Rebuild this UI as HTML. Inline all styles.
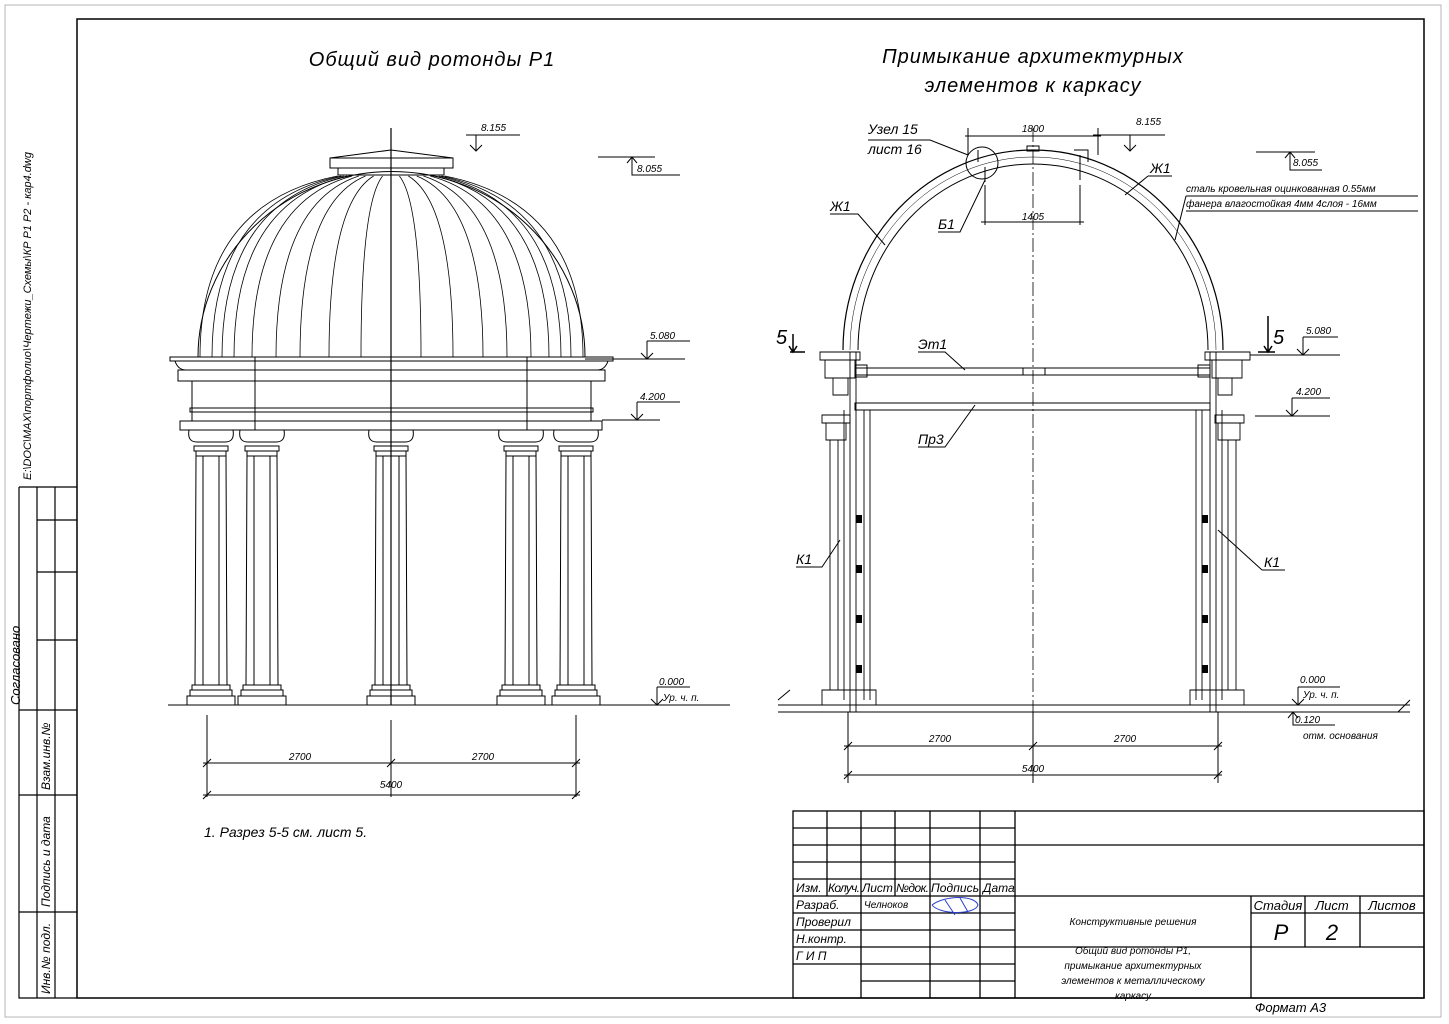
<!DOCTYPE html>
<html><head><meta charset="utf-8"><style>
html,body{margin:0;padding:0;background:#fff}
svg{display:block}
text{font-family:"Liberation Sans",sans-serif;font-style:italic;fill:#000;stroke:none}
</style></head><body>
<svg id="s" width="1449" height="1024" viewBox="0 0 1449 1024" xmlns="http://www.w3.org/2000/svg" fill="none" stroke="#000" stroke-width="1">
<!-- frame -->
<rect x="77" y="19" width="1347" height="979" stroke-width="1.5"/>
<rect x="5" y="5" width="1436" height="1012" stroke="#999" stroke-width="0.7"/>
<!-- left strip -->
<g stroke-width="1.2">
<path d="M19 487H77M19 487V998H77M37 487V998M55 487V710M55 710V998M37 520H77M37 572H77M37 640H77M19 710H77M19 795H77M19 912H77"/>
</g>
<text x="0" y="0" font-size="11" transform="translate(31,480) rotate(-90)">E:\DOC\MAX\портфолио\Чертежи_Схемы\КР Р1 Р2 - кар4.dwg</text>
<text x="0" y="0" font-size="13" transform="translate(20,705) rotate(-90)">Согласовано</text>
<text x="0" y="0" font-size="12" transform="translate(50,790) rotate(-90)">Взам.инв.№</text>
<text x="0" y="0" font-size="12" transform="translate(50,907) rotate(-90)">Подпись и дата</text>
<text x="0" y="0" font-size="12" transform="translate(50,994) rotate(-90)">Инв.№ подл.</text>

<!-- titles -->
<text x="432" y="66" font-size="20" text-anchor="middle" letter-spacing="1">Общий вид ротонды Р1</text>
<text x="1033" y="63" font-size="20" text-anchor="middle" letter-spacing="1">Примыкание архитектурных</text>
<text x="1033" y="92" font-size="20" text-anchor="middle" letter-spacing="1">элементов к каркасу</text>

<!-- LEFT VIEW -->
<g id="left">
<path d="M198 357 A193 185 0 0 1 585 357"/>
<rect x="330" y="158" width="123" height="10"/>
<rect x="338" y="168" width="106" height="7"/>
<path d="M330 158 L391 150 L453 158"/>
<g id="ribs" stroke-width="0.8"></g>
<path d="M391 128V705" stroke-width="1.2"/>
<rect x="170" y="357" width="443" height="4"/>
<path d="M175 361 Q178 370 186 370 M608 361 Q605 370 597 370"/>
<rect x="178" y="370" width="427" height="11"/>
<rect x="192" y="381" width="399" height="40"/>
<rect x="190" y="408" width="403" height="4"/>
<rect x="180" y="421" width="422" height="9"/>
<path d="M255 357V430M527 357V430" stroke-width="1"/>
<g id="cols"></g>
<path d="M168 705H640"/>
<!-- levels -->
<path d="M466 135H520M476 135V151M470 145L476 151L482 145"/>
<text x="481" y="131" font-size="10">8.155</text>
<path d="M598 157H655M632 157V175H680M627 163L632 157L637 163"/>
<text x="637" y="172" font-size="10">8.055</text>
<path d="M585 359H685M647 341H690M647 341V359M641 353L647 359L653 353"/>
<text x="650" y="339" font-size="10">5.080</text>
<path d="M602 420H660M637 402H680M637 402V420M631 414L637 420L643 414"/>
<text x="640" y="400" font-size="10">4.200</text>
<path d="M620 705H730M657 687H690M657 687V705M651 699L657 705L663 699"/>
<text x="659" y="685" font-size="10">0.000</text>
<text x="663" y="701" font-size="10">Ур. ч. п.</text>
<!-- dims -->
<path d="M207 715V797M391 720V797M576 715V797M203 763H580M203 795H580"/>
<path d="M203 767L211 759M387 767L395 759M572 767L580 759M203 799L211 791M572 799L580 791"/>
<text x="300" y="760" font-size="10" text-anchor="middle">2700</text>
<text x="483" y="760" font-size="10" text-anchor="middle">2700</text>
<text x="391" y="788" font-size="10" text-anchor="middle">5400</text>
<text x="204" y="837" font-size="14">1. Разрез 5-5 см. лист 5.</text>
</g>

<!-- RIGHT VIEW -->
<g id="right">
<path d="M843 350 A190 200 0 0 1 1223 350" stroke-width="1.2"/>
<path d="M858 350 A175 186 0 0 1 1208 350"/>
<path d="M850 350 A183 193 0 0 1 1216 350" stroke-width="0.5"/>
<path d="M1033 128V715" stroke-dasharray="14 3 2 3" stroke-width="0.8"/>
<circle cx="982" cy="163" r="16"/>
<path d="M985 167V182M1080 155V180M1074 150H1088V162M978 150V162"/>
<rect x="1027" y="146" width="12" height="5"/>
<!-- 1800/1405 dims -->
<path d="M968 128V155M1098 128V155M965 136H1101M985 185V225M1080 185V225M981 222H1084"/>
<text x="1033" y="132" font-size="10" text-anchor="middle">1800</text>
<text x="1033" y="220" font-size="10" text-anchor="middle">1405</text>
<!-- beams -->
<rect x="855" y="368" width="355" height="7"/>
<path d="M1023 368V375M1045 368V375"/>
<rect x="855" y="403" width="355" height="7"/>
<rect x="855" y="365" width="12" height="12"/>
<rect x="1198" y="365" width="12" height="12"/>
<!-- columns -->
<g stroke-width="0.9">
<path d="M820 352H860V360H820Z M825 360H855V378H825Z M833 378H848V395H833Z"/>
<path d="M822 415H850V423H822Z M826 423H846V440H826Z"/>
<path d="M830 440V690M838 440V690M850 352V712M856 352V712M864 410V700M870 410V700M844 410V700"/>
<path d="M822 690H876V705H822Z"/>
<path d="M1205 352H1250V360H1205Z M1212 360H1242V378H1212Z M1218 378H1232V395H1218Z"/>
<path d="M1215 415H1244V423H1215Z M1218 423H1240V440H1218Z"/>
<path d="M1228 440V690M1236 440V690M1210 352V712M1216 352V712M1196 410V700M1202 410V700M1222 410V700"/>
<path d="M1190 690H1244V705H1190Z"/>
</g>
<g fill="#000" stroke="none">
<rect x="856" y="515" width="6" height="8"/><rect x="856" y="565" width="6" height="8"/><rect x="856" y="615" width="6" height="8"/><rect x="856" y="665" width="6" height="8"/>
<rect x="1202" y="515" width="6" height="8"/><rect x="1202" y="565" width="6" height="8"/><rect x="1202" y="615" width="6" height="8"/><rect x="1202" y="665" width="6" height="8"/>
</g>
<path d="M778 705H1410M778 712H1410" />
<path d="M778 700L790 690M1398 712L1410 700"/>
<!-- leaders/labels -->
<text x="868" y="134" font-size="14">Узел 15</text>
<text x="868" y="154" font-size="14">лист 16</text>
<path d="M868 140H930L968 155"/>
<text x="938" y="229" font-size="14">Б1</text>
<path d="M938 232H960L985 180"/>
<text x="830" y="211" font-size="14">Ж1</text>
<path d="M830 214H858L885 245"/>
<text x="1150" y="173" font-size="14">Ж1</text>
<path d="M1148 176H1172M1148 176L1125 195"/>
<text x="918" y="349" font-size="14">Эт1</text>
<path d="M918 352H945L965 370"/>
<text x="918" y="444" font-size="14">Пр3</text>
<path d="M918 447H945L975 405"/>
<text x="796" y="564" font-size="14">К1</text>
<path d="M796 567H822L840 540"/>
<text x="1264" y="567" font-size="14">К1</text>
<path d="M1262 570H1285M1262 570L1218 530"/>
<text x="1186" y="192" font-size="10">сталь кровельная оцинкованная 0.55мм</text>
<path d="M1186 196H1418"/>
<text x="1186" y="207" font-size="10">фанера влагостойкая 4мм  4слоя - 16мм</text>
<path d="M1186 211H1418M1186 196L1175 240"/>
<!-- section marks -->
<text x="776" y="344" font-size="20" font-style="normal">5</text>
<path d="M790 352H805M793 334V352M789 346L793 352L797 346" stroke-width="1.5"/>
<text x="1273" y="344" font-size="20" font-style="normal">5</text>
<path d="M1258 352H1275M1268 316V352M1264 346L1268 352L1272 346" stroke-width="1.5"/>
<!-- levels -->
<path d="M1093 135H1165M1130 135V151M1124 145L1130 151L1136 145"/>
<text x="1136" y="125" font-size="10">8.155</text>
<path d="M1256 152H1315M1290 152V170H1322M1285 158L1290 152L1295 158"/>
<text x="1293" y="166" font-size="10">8.055</text>
<path d="M1250 355H1340M1303 337H1338M1303 337V355M1297 349L1303 355L1309 349"/>
<text x="1306" y="334" font-size="10">5.080</text>
<path d="M1255 416H1330M1292 398H1330M1292 398V416M1286 410L1292 416L1298 410"/>
<text x="1296" y="395" font-size="10">4.200</text>
<path d="M1298 687H1340M1298 687V705M1292 699L1298 705L1304 699"/>
<text x="1300" y="683" font-size="10">0.000</text>
<text x="1303" y="698" font-size="10">Ур. ч. п.</text>
<path d="M1293 712V725H1335M1288 718L1293 712L1298 718"/>
<text x="1295" y="723" font-size="10">0.120</text>
<text x="1303" y="739" font-size="10">отм. основания</text>
<!-- dims -->
<path d="M848 712V783M1033 712V783M1218 712V783M844 746H1222M844 775H1222"/>
<path d="M844 750L852 742M1029 750L1037 742M1214 750L1222 742M844 779L852 771M1214 779L1222 771"/>
<text x="940" y="742" font-size="10" text-anchor="middle">2700</text>
<text x="1125" y="742" font-size="10" text-anchor="middle">2700</text>
<text x="1033" y="772" font-size="10" text-anchor="middle">5400</text>
</g>

<!-- TITLE BLOCK -->
<g stroke-width="1.3">
<rect x="793" y="811" width="631" height="187"/>
<path d="M827 811V896M861 811V998M895 811V896M930 811V998M980 811V998M1015 811V998"/>
<path d="M793 828H1015M793 845H1424M793 862H1015M793 879H1015M793 896H1424M793 913H1015M793 930H1015M793 947H1424M793 964H1015M861 981H1015"/>
<path d="M1251 896V998M1305 896V947M1360 896V947M1251 913H1424"/>
</g>
<g font-size="12">
<text x="796" y="892">Изм.</text><text x="828" y="892" textLength="32">Колуч.</text><text x="862" y="892">Лист</text><text x="896" y="892" textLength="33">№док.</text><text x="931" y="892" textLength="48">Подпись</text><text x="983" y="892">Дата</text>
<text x="796" y="909">Разраб.</text><text x="864" y="908" font-size="10">Челноков</text>
<text x="796" y="926">Проверил</text><text x="796" y="943">Н.контр.</text><text x="796" y="960">Г И П</text>
<text x="1133" y="925" font-size="10" text-anchor="middle">Конструктивные решения</text>
<text x="1133" y="954" font-size="10" text-anchor="middle">Общий вид ротонды Р1,</text>
<text x="1133" y="969" font-size="10" text-anchor="middle">примыкание архитектурных</text>
<text x="1133" y="984" font-size="10" text-anchor="middle">элементов к металлическому</text>
<text x="1133" y="999" font-size="10" text-anchor="middle">каркасу</text>
<text x="1278" y="910" text-anchor="middle" font-size="13">Стадия</text>
<text x="1332" y="910" text-anchor="middle" font-size="13">Лист</text>
<text x="1392" y="910" text-anchor="middle" font-size="13">Листов</text>
<text x="1281" y="940" text-anchor="middle" font-size="22">Р</text>
<text x="1332" y="940" text-anchor="middle" font-size="22">2</text>
<text x="1255" y="1012" font-size="13">Формат А3</text>
</g>
<path d="M932 905 C945 895 975 895 978 905 C975 915 940 915 932 905 M945 900 L955 915 M960 898 L968 912" stroke="#2a3fd0" stroke-width="1"/>
</svg>
<script>
var ns="http://www.w3.org/2000/svg";
function el(p,t,a){var e=document.createElementNS(ns,t);for(var k in a)e.setAttribute(k,a[k]);p.appendChild(e);return e;}
var ribs=document.getElementById("ribs");
var bs=[200,212,222,234,252,276,300,329,361,421,453,483,507,531,549,561,571,583];
bs.forEach(function(b){var x0=391+(b-391)*0.28;var d="M"+x0+" 176 C"+(x0+(b-x0)*0.7)+" 195 "+b+" 260 "+b+" 357";el(ribs,"path",{d:d});});
var cols=document.getElementById("cols");
[211,262,391,521,576].forEach(function(c){
el(cols,"path",{d:"M"+(c-22)+" 430 Q"+(c-24)+" 442 "+(c-14)+" 442 H"+(c+14)+" Q"+(c+24)+" 442 "+(c+22)+" 430"});
el(cols,"rect",{x:c-17,y:446,width:34,height:5});
el(cols,"rect",{x:c-15,y:451,width:30,height:5});
el(cols,"path",{d:"M"+(c-15)+" 456 L"+(c-16)+" 685 M"+(c+15)+" 456 L"+(c+16)+" 685 M"+(c-8)+" 456V685 M"+(c+8)+" 456V685"});
el(cols,"rect",{x:c-19,y:685,width:38,height:5});
el(cols,"rect",{x:c-21,y:690,width:42,height:6});
el(cols,"rect",{x:c-24,y:696,width:48,height:9});
});
</script>
</body></html>
